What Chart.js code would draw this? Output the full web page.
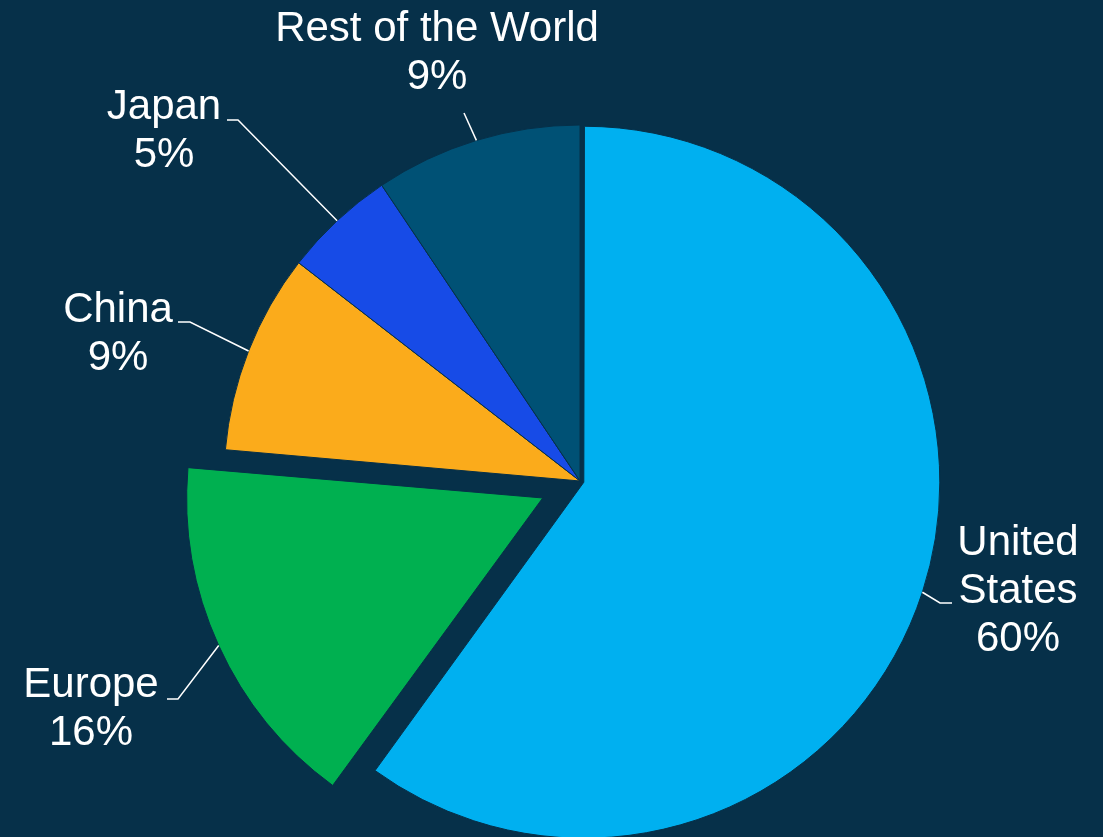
<!DOCTYPE html>
<html>
<head>
<meta charset="utf-8">
<title>Share by region</title>
<script src="https://cdn.jsdelivr.net/npm/chart.js@4.4.1/dist/chart.umd.min.js"></script>
<style>
  html, body { margin: 0; padding: 0; background: #063049; overflow: hidden; }
  #wrap { width: 1103px; height: 837px; }
</style>
</head>
<body>
<div id="wrap"><canvas id="regionChart" width="1103" height="837"></canvas></div>
<script>
// Share by region, in percent (clockwise from 12 o'clock)
const regions = ['United States', 'Europe', 'China', 'Japan', 'Rest of the World'];
const shares = [60.0, 16.4, 9.1, 5.1, 9.4];
const sliceColors = ['#00B0F0', '#00B050', '#FBAB1B', '#174BE7', '#005175'];
// exploded slices (Chart.js moves an arc by offset / 4)
const sliceOffsets = [16, 164, 0, 0, 0];

const BG = '#063049';
const RADIUS = 356;

// where each label sits and how its leader line bends
const labelLayout = [
  { lines: ['United', 'States'], x: 1018, y: 555, path: [[952, 603], [940, 603]] },
  { lines: ['Europe'], x: 91, y: 697, path: [[167, 699], [178, 699]] },
  { lines: ['China'], x: 118, y: 322, path: [[178, 322], [190, 322]] },
  { lines: ['Japan'], x: 164, y: 119, path: [[227, 120], [238, 120]] },
  { lines: ['Rest of the World'], x: 437, y: 41, path: [[464, 113]] }
];
const LINE_H = 48;

// keep exploded slices at the same radius as the rest
const keepRadius = {
  id: 'keepRadius',
  afterDatasetsUpdate(chart) {
    chart.getDatasetMeta(0).data.forEach(arc => {
      const off = (arc.options.offset || 0) / 4;
      const fix = 1 - Math.sin(Math.min(Math.PI, arc.circumference || 0));
      arc.outerRadius = RADIUS - off * fix;
    });
  }
};

const calloutLabels = {
  id: 'calloutLabels',
  afterDraw(chart) {
    const ctx = chart.ctx;
    const meta = chart.getDatasetMeta(0);
    const values = chart.data.datasets[0].data;
    const total = values.reduce((a, b) => a + b, 0);
    ctx.save();
    meta.data.forEach((arc, i) => {
      const lay = labelLayout[i];
      const mid = (arc.startAngle + arc.endAngle) / 2;
      const off = (arc.options.offset || 0) / 4;
      const r = RADIUS + off;
      const tx = arc.x + Math.cos(mid) * r;
      const ty = arc.y + Math.sin(mid) * r;

      // leader line
      ctx.strokeStyle = '#FFFFFF';
      ctx.lineWidth = 1.5;
      ctx.beginPath();
      ctx.moveTo(lay.path[0][0], lay.path[0][1]);
      for (let k = 1; k < lay.path.length; k++) ctx.lineTo(lay.path[k][0], lay.path[k][1]);
      ctx.lineTo(tx, ty);
      ctx.stroke();

      // name and share
      const pct = Math.round(values[i] / total * 100) + '%';
      const lines = lay.lines.concat([pct]);
      ctx.fillStyle = '#FFFFFF';
      ctx.font = '42px "Liberation Sans", Arial, sans-serif';
      ctx.textAlign = 'center';
      ctx.textBaseline = 'alphabetic';
      lines.forEach((t, k) => ctx.fillText(t, lay.x, lay.y + k * LINE_H));
    });
    ctx.restore();
  }
};

const ctx = document.getElementById('regionChart').getContext('2d');

const regionChart = new Chart(ctx, {
  type: 'pie',
  data: {
    labels: regions,
    datasets: [{
      data: shares,
      backgroundColor: sliceColors,
      borderColor: BG,
      borderWidth: 1,
      offset: sliceOffsets,
      hoverOffset: 0
    }]
  },
  options: {
    responsive: false,
    maintainAspectRatio: false,
    animation: false,
    events: [],
    radius: RADIUS,
    layout: { padding: { left: 57, right: 0, top: 125, bottom: 0 } },
    plugins: {
      legend: { display: false },
      tooltip: { enabled: false }
    }
  },
  plugins: [keepRadius, calloutLabels]
});
</script>
</body>
</html>
